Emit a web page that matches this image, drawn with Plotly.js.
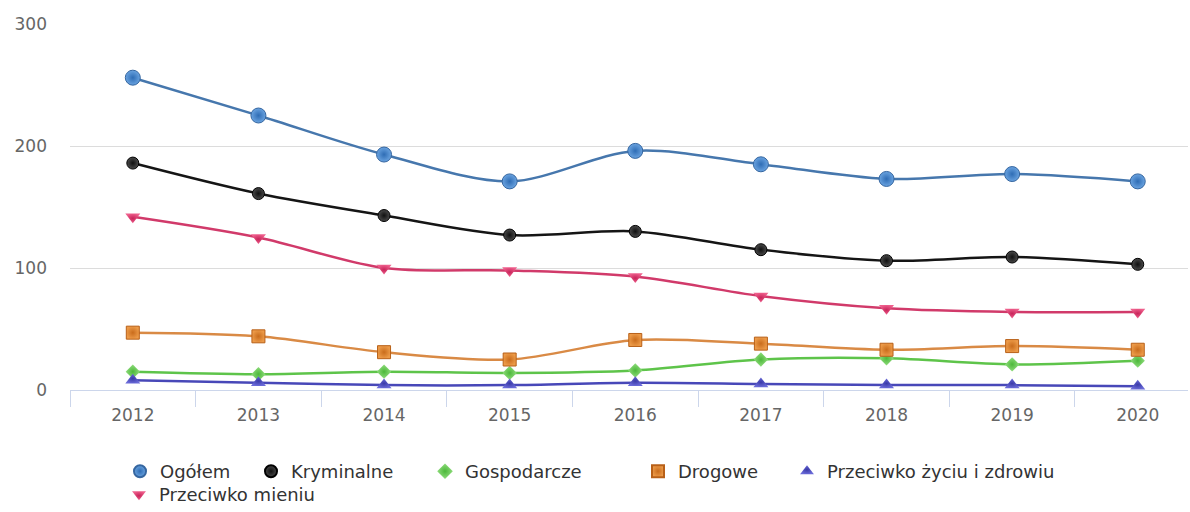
<!DOCTYPE html>
<html>
<head>
<meta charset="utf-8">
<script src="https://cdn.plot.ly/plotly-3.0.1.min.js"></script>
<style>
html,body{margin:0;padding:0;background:#fff;}
#chart{width:1190px;height:512px;}
</style>
</head>
<body>
<div id="chart"></div>
<script>
var years = ['2012','2013','2014','2015','2016','2017','2018','2019','2020'];
var ogolem = [256, 225, 193, 171, 196, 185, 173, 177, 171];
var kryminalne = [186, 161, 143, 127, 130, 115, 106, 109, 103];
var gospodarcze = [15, 13, 15, 14, 16, 25, 26, 21, 24];
var drogowe = [47, 44, 31, 25, 41, 38, 33, 36, 33];
var zyciu = [8, 6, 4, 4, 6, 5, 4, 4, 3];
var mieniu = [142, 125, 100, 98, 93, 77, 67, 64, 64];
var names = ['Ogółem','Kryminalne','Gospodarcze','Drogowe','Przeciwko życiu i zdrowiu','Przeciwko mieniu'];
var yTicks = [0, 100, 200, 300];

var series = [
  {y: ogolem, line: '#4677ad', mk: {symbol:'circle', size:15, color:'#6aa3e0', gradient:{type:'radial', color:'#2f6db5'}, line:{color:'#3566a0', width:1}}},
  {y: kryminalne, line: '#151515', mk: {symbol:'circle', size:12, color:'#4a4a4a', gradient:{type:'radial', color:'#101010'}, line:{color:'#000', width:1}}},
  {y: gospodarcze, line: '#5ec44a', mk: {symbol:'diamond', size:11, color:'#8fdc7c', gradient:{type:'radial', color:'#4cb83a'}, line:{width:0}}},
  {y: drogowe, line: '#d98a45', mk: {symbol:'square', size:13, color:'#ec9a48', gradient:{type:'radial', color:'#c96c1c'}, line:{color:'#b86018', width:1}}},
  {y: zyciu, line: '#4848b8', mk: {symbol:'triangle-up', size:13, color:'#6a6ad8', gradient:{type:'radial', color:'#3a3aa8'}, line:{width:0}}},
  {y: mieniu, line: '#d13a6a', mk: {symbol:'triangle-down', size:13, color:'#ee5f8c', gradient:{type:'radial', color:'#c8245a'}, line:{width:0}}}
];
var legendPos = [
  {x: 120, y: 453}, {x: 251, y: 453}, {x: 425, y: 453},
  {x: 638, y: 453}, {x: 787, y: 453}, {x: 119, y: 476}
];

var data = [];
series.forEach(function (s, i) {
  data.push({
    type: 'scatter', mode: 'lines', name: names[i], x: years, y: s.y,
    line: {color: s.line, width: 2.5, shape: 'spline', smoothing: 0.9},
    showlegend: false, hoverinfo: 'skip', cliponaxis: false
  });
});
series.forEach(function (s, i) {
  data.push({
    type: 'scatter', mode: 'markers', name: names[i], x: years, y: s.y,
    marker: s.mk, cliponaxis: false,
    legend: i === 0 ? 'legend' : 'legend' + (i + 1)
  });
});

var layout = {
  width: 1190, height: 512,
  margin: {l: 70, r: 2, t: 24, b: 122},
  paper_bgcolor: '#ffffff', plot_bgcolor: '#ffffff',
  font: {family: 'DejaVu Sans, Verdana, sans-serif', size: 17, color: '#666'},
  showlegend: true,
  xaxis: {
    type: 'category', range: [-0.5, 8.4], tickson: 'boundaries',
    ticks: 'outside', ticklen: 16, tickcolor: '#ccd6eb', tickwidth: 1,
    showline: true, linecolor: '#ccd6eb', linewidth: 1,
    showgrid: false, zeroline: false, ticklabelstandoff: 10,
    tickfont: {size: 17, color: '#666'}, fixedrange: true
  },
  yaxis: {
    range: [0, 300], tickvals: yTicks, ticktext: yTicks.map(String),
    showgrid: true, gridcolor: '#dcdcdc', gridwidth: 1,
    zeroline: false, showline: false, ticks: '',
    ticklabelstandoff: 22,
    tickfont: {size: 17, color: '#666'}, fixedrange: true
  }
};
legendPos.forEach(function (p, i) {
  var key = i === 0 ? 'legend' : 'legend' + (i + 1);
  layout[key] = {
    orientation: 'h', xref: 'container', yref: 'container',
    x: p.x / 1190, xanchor: 'left', y: 1 - p.y / 512, yanchor: 'top',
    font: {size: 18, color: '#333', family: 'DejaVu Sans, Verdana, sans-serif'},
    bgcolor: 'rgba(0,0,0,0)', itemsizing: 'constant'
  };
});
Plotly.newPlot('chart', data, layout, {displayModeBar: false, staticPlot: true});
</script>
</body>
</html>
